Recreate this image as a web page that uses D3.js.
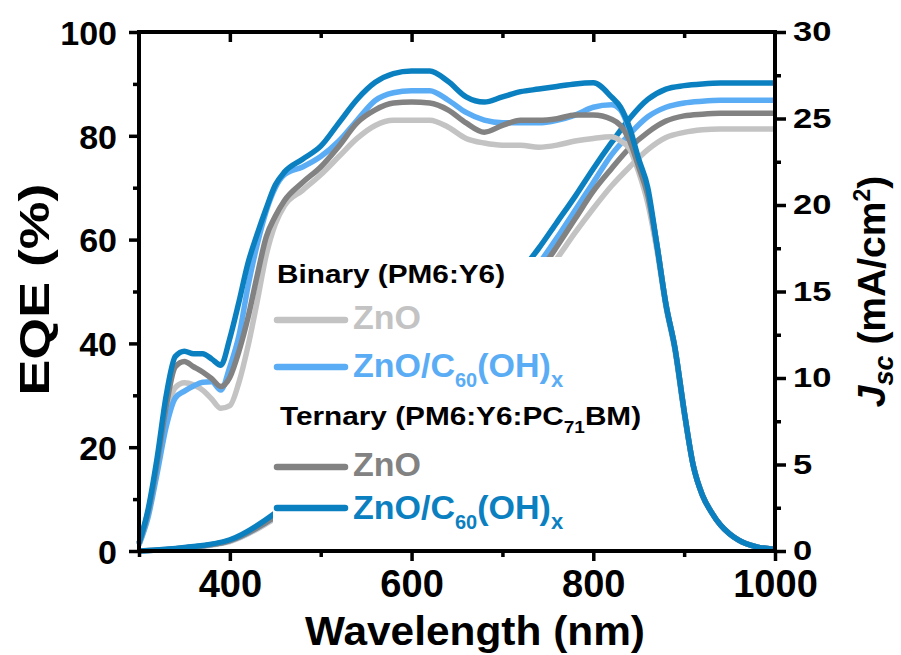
<!DOCTYPE html>
<html><head><meta charset="utf-8">
<script src="https://cdn.jsdelivr.net/npm/d3@7"></script>
<style>body{margin:0;background:#fff}svg{display:block}text{font-family:"Liberation Sans",Arial,sans-serif;font-weight:bold}</style>
</head><body><svg id="c" width="901" height="655"></svg>
<script>
// ---------- data ----------
const eqeWl = [300,310,320,330,340,350,360,370,380,390,400,410,420,430,440,450,460,480,500,520,540,560,580,600,620,640,660,680,700,720,740,760,780,800,820,830,840,850,860,870,880,890,900,910,920,930,940,950,960,980,1000];
const eqeBinZnO = [1.2,7,16,26,31.5,32.4,32,31,29.3,27.5,28,32.5,39.5,48,57,63,66.5,69.5,72.5,76,79.5,82,83,83,83,81.7,79.5,78.6,78.2,78.2,77.8,78.2,79,79.5,79.8,79,77.5,73,67,58,47,38.5,26.5,16.5,10.8,7.5,5,3.3,2.1,0.8,0.3];
const eqeBinC60 = [1.2,6.5,15,24,29.5,30.8,31.8,32.5,32.6,31,35.5,41.5,51,59,65.5,70,72.5,74,76,79,83,86.8,88.3,88.7,88.7,86.9,84.5,83,82.5,82.5,82.5,83,84,85.5,86,85,81,75,69,59,47.5,39,27,16.5,10.8,7.5,5,3.3,2.1,0.8,0.3];
const eqeTerZnO = [1.5,7.5,17,28,35.5,36.5,35.5,34.5,33.2,31.7,33.5,38.5,45,53,60.5,64.5,67.5,71,74,78,82.5,85,86.3,86.5,86.3,85,82.5,80.7,82,83,83,83.3,84,84,83.2,82,79,74,68.5,59,47.5,39,27,16.5,10.8,7.5,5,3.3,2.1,0.8,0.3];
const eqeTerC60 = [1.5,8,18,30,37.5,38.5,38,38,37,35.8,41,48,55.5,61,66,70.5,73,75.5,78,82.5,87,90.3,92,92.5,92.5,90.5,87.5,86.5,87.5,88.5,89,89.5,90,90.2,87.5,85.5,81.5,75.5,70,59,47.5,39,27,16.5,10.8,7.5,5,3.3,2.1,0.8,0.3];

const jscWl = [300,350,400,450,500,550,600,650,700,740,760,780,800,820,840,860,880,900,920,940,960,1000];
const jscBinZnO = [0,0.18,0.55,1.9,3.9,6.4,9.0,11.5,13.4,15.5,16.9,18.4,19.8,21.1,22.2,23.2,23.9,24.2,24.35,24.4,24.4,24.4];
const jscBinC60 = [0,0.18,0.6,2.0,4.2,6.9,9.7,12.4,14.3,16.6,18.1,19.7,21.3,22.9,24.1,25.1,25.65,25.9,26.0,26.05,26.05,26.05];
const jscTerZnO = [0,0.18,0.6,2.0,4.1,6.7,9.4,12.0,13.9,16.1,17.6,19.2,20.8,22.1,23.3,24.2,24.85,25.15,25.25,25.3,25.3,25.3];
const jscTerC60 = [0,0.2,0.65,2.2,4.5,7.3,10.2,13.0,15.0,17.5,19.0,20.5,22.1,23.6,25.0,26.1,26.7,26.9,27.0,27.05,27.05,27.05];

const xTicks = [400,600,800,1000];
const xMinor = [300,500,700,900];
const yTicks = [0,20,40,60,80,100];
const yMinor = [10,30,50,70,90];
const y2Ticks = [0,5,10,15,20,25,30];
const y2Minor = [2.5,7.5,12.5,17.5,22.5,27.5];

const seriesNames = ["Binary ZnO","Binary ZnO/C60(OH)x","Ternary ZnO","Ternary ZnO/C60(OH)x"];
const colors = ["#c3c3c3","#5aadf5","#828282","#0b80c1"];

// ---------- layout ----------
const L=139, R=775, T=32, B=551;
const svg = d3.select("#c");
const x = d3.scaleLinear().domain([300,1000]).range([L,R]);
const y = d3.scaleLinear().domain([0,100]).range([B,T]);
const y2 = d3.scaleLinear().domain([0,30]).range([B,T]);

const eqeSets = [eqeBinZnO,eqeBinC60,eqeTerZnO,eqeTerC60];
const jscSets = [jscBinZnO,jscBinC60,jscTerZnO,jscTerC60];

const lineE = d3.line().x(d=>x(d[0])).y(d=>y(d[1])).curve(d3.curveMonotoneX);
const lineJ = d3.line().x(d=>x(d[0])).y(d=>y2(d[1])).curve(d3.curveMonotoneX);

const plot = svg.append("g");
jscSets.forEach((s,i)=>{
  plot.append("path").datum(jscWl.map((w,k)=>[w,s[k]])).attr("d",lineJ)
    .attr("fill","none").attr("stroke",colors[i]).attr("stroke-width",5.5).attr("stroke-linejoin","round");
});
// legend background box
plot.append("rect").attr("x",273).attr("y",257).attr("width",368).attr("height",291).attr("fill","#fff");
eqeSets.forEach((s,i)=>{
  plot.append("path").datum(eqeWl.map((w,k)=>[w,s[k]])).attr("d",lineE)
    .attr("fill","none").attr("stroke",colors[i]).attr("stroke-width",5.5).attr("stroke-linejoin","round");
});

// ---------- axes ----------
function styleAxis(g){ g.select(".domain").remove(); g.selectAll("line").attr("stroke","#000").attr("stroke-width",3.5);
  g.selectAll("text").attr("fill","#000").style("font-weight","bold"); }

const gxB = svg.append("g").attr("transform",`translate(0,${B})`)
  .call(d3.axisBottom(x).tickValues(xTicks).tickSize(10).tickPadding(9).tickSizeOuter(0).tickFormat(d3.format("d")));
styleAxis(gxB); gxB.selectAll("text").style("font-size","38px").attr("dy","0.72em");
const gxBm = svg.append("g").attr("transform",`translate(0,${B})`)
  .call(d3.axisBottom(x).tickValues(xMinor).tickSize(6).tickFormat(""));
styleAxis(gxBm);
const gxT = svg.append("g").attr("transform",`translate(0,${T})`)
  .call(d3.axisTop(x).tickValues([400,600,800]).tickSize(-10).tickFormat(""));
styleAxis(gxT);
const gxTm = svg.append("g").attr("transform",`translate(0,${T})`)
  .call(d3.axisTop(x).tickValues([500,700,900]).tickSize(-6).tickFormat(""));
styleAxis(gxTm);

const gyL = svg.append("g").attr("transform",`translate(${L},0)`)
  .call(d3.axisLeft(y).tickValues(yTicks).tickSize(10).tickPadding(12));
styleAxis(gyL); gyL.selectAll("text").style("font-size","34px").attr("dy","0.36em");
const gyLm = svg.append("g").attr("transform",`translate(${L},0)`)
  .call(d3.axisLeft(y).tickValues(yMinor).tickSize(6).tickFormat(""));
styleAxis(gyLm);

const gyR = svg.append("g").attr("transform",`translate(${R},0)`)
  .call(d3.axisRight(y2).tickValues(y2Ticks).tickSize(11).tickFormat(""));
styleAxis(gyR);
const gyRm = svg.append("g").attr("transform",`translate(${R},0)`)
  .call(d3.axisRight(y2).tickValues(y2Minor).tickSize(6).tickFormat(""));
styleAxis(gyRm);
// right tick labels (wide)
y2Ticks.forEach(v=>{
  svg.append("text").attr("transform",`translate(${R+18},${y2(v)+9}) scale(1.28,1)`)
    .style("font-size","27px").attr("fill","#000").text(v);
});

// frame
svg.append("rect").attr("x",L).attr("y",T).attr("width",R-L).attr("height",B-T)
  .attr("fill","none").attr("stroke","#000").attr("stroke-width",4);

// ---------- titles ----------
svg.append("text").attr("x",475).attr("y",645).attr("text-anchor","middle")
  .attr("textLength",340).attr("lengthAdjust","spacingAndGlyphs")
  .style("font-size","40px").attr("fill","#000").text("Wavelength (nm)");
svg.append("text").attr("transform",`translate(49,${(T+B)/2-2}) rotate(-90) scale(1.25,1)`).attr("text-anchor","middle")
  .style("font-size","43px").attr("fill","#000").text("EQE (%)");
const jt = svg.append("text").attr("transform",`translate(885,${(T+B)/2}) rotate(-90)`).attr("text-anchor","middle")
  .style("font-size","39px").attr("fill","#000");
jt.append("tspan").style("font-style","italic").text("J");
jt.append("tspan").style("font-style","italic").style("font-size","27px").attr("dy",8).text("sc");
jt.append("tspan").attr("dy",-8).text(" (mA/cm");
jt.append("tspan").style("font-size","23px").attr("dy",-15).text("2");
jt.append("tspan").attr("dy",15).text(")");

// ---------- legend ----------
function header(xp,yp,parts){
  const t = svg.append("text").attr("transform",`translate(${xp},${yp}) scale(1.19,1)`).style("font-size","25px").attr("fill","#000");
  parts.forEach(p=>{ const s=t.append("tspan").text(p.t); if(p.sub){s.style("font-size","16px").attr("dy",8);} if(p.back){s.attr("dy",-8);} });
}
header(277,283,[{t:"Binary (PM6:Y6)"}]);
header(280,425,[{t:"Ternary (PM6:Y6:PC"},{t:"71",sub:true},{t:"BM)",back:true}]);

const legRows = [{ly:320,ty:329,c:0,label:"ZnO"},{ly:367,ty:377,c:1,label:"C60"},{ly:467,ty:476,c:2,label:"ZnO"},{ly:508,ty:519,c:3,label:"C60"}];
legRows.forEach(r=>{
  svg.append("line").attr("x1",277).attr("x2",345).attr("y1",r.ly).attr("y2",r.ly)
    .attr("stroke",colors[r.c]).attr("stroke-width",6.5).attr("stroke-linecap","round");
  const t = svg.append("text").attr("x",353).attr("y",r.ty).style("font-size","34px").attr("fill",colors[r.c]);
  if(r.label==="ZnO"){ t.text("ZnO"); }
  else {
    t.append("tspan").text("ZnO/C");
    t.append("tspan").style("font-size","20px").attr("dy",10).text("60");
    t.append("tspan").attr("dy",-10).text("(OH)");
    t.append("tspan").style("font-size","22px").attr("dy",10).text("x");
  }
});
</script></body></html>
